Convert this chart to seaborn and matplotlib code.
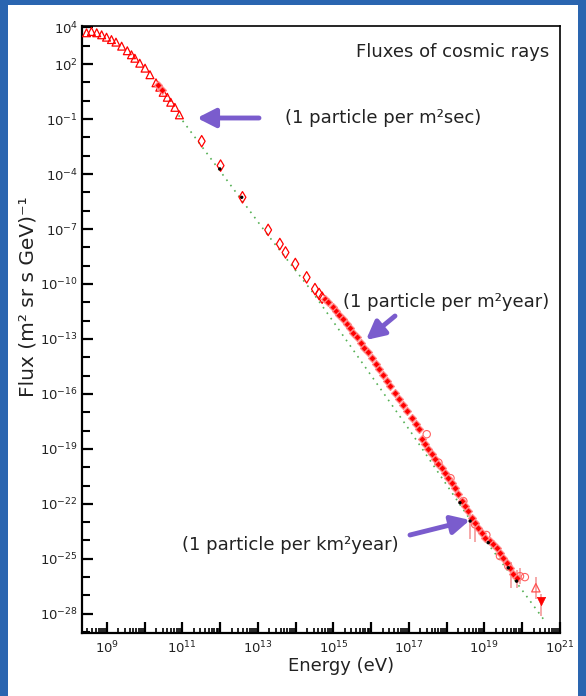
import numpy as np
import pandas as pd
import seaborn as sns
import matplotlib.pyplot as plt
from matplotlib.patches import Rectangle
from matplotlib.ticker import FixedLocator, LogLocator, FuncFormatter, NullFormatter

# Values (log10 of energy in eV, log10 of flux)
# low energy triangles
tri_logE = [8.46, 8.59, 8.73, 8.86, 8.99, 9.12, 9.24, 9.39, 9.54, 9.65, 9.74,
            9.87, 10.01, 10.14, 10.30, 10.40, 10.49, 10.60, 10.69, 10.80, 10.92]
tri_logF = [3.71, 3.78, 3.71, 3.60, 3.47, 3.34, 3.20, 2.98, 2.73, 2.51, 2.32,
            2.05, 1.78, 1.42, 0.98, 0.74, 0.46, 0.19, -0.08, -0.36, -0.77]
# open diamonds
dia_logE = [11.51, 12.01, 12.59, 13.27, 13.58, 13.73, 13.99, 14.29, 14.51, 14.62, 14.70]
dia_logF = [-2.21, -3.54, -5.27, -7.05, -7.82, -8.28, -8.91, -9.64, -10.28, -10.55, -10.75]
# filled points (dense band)
band_logE = [10.35, 10.45,
             14.78, 14.86, 14.99, 15.07, 15.15, 15.26, 15.35, 15.44, 15.52, 15.63,
             15.72, 15.81, 15.92, 16.01, 16.13, 16.21, 16.30, 16.41, 16.51, 16.63,
             16.74, 16.85, 16.95, 17.07, 17.19, 17.27,
             17.34, 17.42, 17.51, 17.60, 17.69, 17.78, 17.87, 17.95, 18.04, 18.13,
             18.22, 18.31, 18.40, 18.48, 18.57, 18.66, 18.75, 18.84, 18.93, 19.01,
             19.15, 19.23, 19.32, 19.41, 19.50, 19.59, 19.68, 19.76, 19.85]
band_logF = [0.85, 0.60,
             -10.83, -11.01, -11.28, -11.46, -11.68, -11.92, -12.16, -12.38, -12.65, -12.92,
             -13.20, -13.47, -13.74, -14.02, -14.38, -14.65, -14.96, -15.29, -15.56, -15.93,
             -16.29, -16.60, -16.93, -17.30, -17.66, -17.93,
             -18.48, -18.75, -19.02, -19.30, -19.57, -19.84, -20.03, -20.30, -20.57, -20.85,
             -21.12, -21.48, -21.85, -22.12, -22.39, -22.76, -23.03, -23.31, -23.58, -23.85,
             -24.03, -24.21, -24.40, -24.67, -24.95, -25.22, -25.49, -25.85, -26.04]
# open markers scattered around the band
open_logE = [17.47, 17.78, 18.10, 18.44, 18.75, 19.05, 19.41, 19.63, 19.94, 20.07]
open_logF = [-18.20, -19.75, -20.60, -21.85, -23.12, -23.70, -24.85, -25.40, -25.95, -26.00]
# small black points
blk_logE = [11.99, 12.57, 18.35, 18.62, 19.10, 19.63, 19.85]
blk_logF = [-3.72, -5.27, -21.94, -22.94, -24.12, -25.49, -26.22]
# highest energy points with error bars
top_logE = [20.36, 20.51]
top_logF = [-26.58, -27.31]
err_logE = [18.62, 18.75, 19.70, 19.85, 19.95, 20.36, 20.51]
err_lo = [-23.9, -24.1, -26.6, -26.6, -26.4, -27.2, -28.1]
err_hi = [-22.3, -22.9, -25.2, -25.6, -25.5, -26.0, -26.9]
# green dotted power law
fit_logE = [10.90, 13.21, 14.43, 17.03, 18.60, 20.60]
fit_logF = [-0.80, -7.19, -10.40, -18.02, -22.80, -28.40]

y_tick_exp = [4, 2, -1, -4, -7, -10, -13, -16, -19, -22, -25, -28]

sns.set_theme(style='white')
plt.rcParams['font.family'] = ['DejaVu Sans']

W, H = 586, 696
fig = plt.figure(figsize=(W / 100, H / 100), dpi=100, facecolor='#2a65b0')
fig.patches.append(Rectangle((8 / W, 0), 570 / W, 691 / H, transform=fig.transFigure,
                             facecolor='white', edgecolor='none', zorder=-1))
ax = fig.add_axes([82 / W, 1 - 633 / H, 478 / W, 607 / H])
ax.set_xscale('log')
ax.set_yscale('log')

p = lambda a: 10.0 ** np.array(a)

sns.lineplot(x=p(fit_logE), y=p(fit_logF), color='#55b055', lw=1.2,
             linestyle=(0, (1, 3)), ax=ax, zorder=1)
ax.vlines(p(err_logE), p(err_lo), p(err_hi), color='#f49a9a', lw=1.2, zorder=2)
sns.scatterplot(x=p(tri_logE), y=p(tri_logF), marker='^', s=32, color='red',
                facecolor='none', edgecolor='red', linewidth=0.9, ax=ax, zorder=3)
sns.scatterplot(x=p(dia_logE), y=p(dia_logF), marker='d', s=34, color='red',
                facecolor='none', edgecolor='red', linewidth=0.9, ax=ax, zorder=3)
sns.scatterplot(x=p(open_logE), y=p(open_logF), marker='o', s=28, color='red',
                facecolor='none', edgecolor='#ff6060', linewidth=0.8, ax=ax, zorder=3)
sns.scatterplot(x=p(band_logE), y=p(band_logF), marker='D', s=16, color='red',
                edgecolor='#ff8a8a', linewidth=0.9, ax=ax, zorder=4)
sns.scatterplot(x=p(blk_logE), y=p(blk_logF), marker='o', s=6, color='black',
                edgecolor='none', ax=ax, zorder=5)
sns.scatterplot(x=p(top_logE[:1]), y=p(top_logF[:1]), marker='^', s=36, color='red',
                facecolor='none', edgecolor='#ff5050', linewidth=0.9, ax=ax, zorder=4)
sns.scatterplot(x=p(top_logE[1:]), y=p(top_logF[1:]), marker='v', s=36, color='red',
                edgecolor='red', ax=ax, zorder=4)

ax.set_xlim(10 ** 8.34, 1e21)
ax.set_ylim(10 ** -29.05, 10 ** 4.08)

# ticks
ax.xaxis.set_major_locator(LogLocator(base=10, numticks=40))
ax.xaxis.set_minor_locator(LogLocator(base=10, subs=np.arange(2, 10), numticks=40))
ax.xaxis.set_minor_formatter(NullFormatter())
def xfmt(v, pos):
    e = int(round(np.log10(v)))
    return f'$10^{{{e}}}$' if e % 2 == 1 else ''
ax.xaxis.set_major_formatter(FuncFormatter(xfmt))

ax.yaxis.set_major_locator(FixedLocator(p(y_tick_exp)))
ax.yaxis.set_minor_locator(FixedLocator(p(np.arange(-29, 5))))
ax.yaxis.set_minor_formatter(NullFormatter())
ax.yaxis.set_major_formatter(FuncFormatter(lambda v, pos: f'$10^{{{int(round(np.log10(v)))}}}$'))

ax.tick_params(which='both', bottom=True, left=True, top=False, right=False)
ax.tick_params(which='major', direction='in', length=8, width=1.6, color='black',
               labelsize=9.5, labelcolor='#222222')
ax.tick_params(axis='x', which='minor', direction='in', length=3.5, width=1.2, color='black')
ax.tick_params(axis='y', which='minor', direction='in', length=6, width=1.5, color='black')
ax.tick_params(axis='y', which='major', pad=3)
ax.tick_params(axis='x', which='major', pad=5)
for s in ax.spines.values():
    s.set_color('black')
    s.set_linewidth(1.2)
ax.spines['left'].set_linewidth(1.6)
ax.spines['bottom'].set_linewidth(1.6)

ax.set_xlabel('Energy (eV)', fontsize=13, color='#222222')
ax.xaxis.set_label_coords((341 - 82) / 478, -0.04)
ax.set_ylabel('Flux (m² sr s GeV)⁻¹', fontsize=14.5, color='#222222')
ax.yaxis.set_label_coords(-0.094, (633 - 297) / 607)

# texts and arrows
fig.text(549 / W, 1 - 52 / H, 'Fluxes of cosmic rays', ha='right', va='center',
         fontsize=13, color='#222222')
fig.text(285 / W, 1 - 118 / H, '(1 particle per m²sec)', ha='left', va='center',
         fontsize=13, color='#222222')
fig.text(343 / W, 1 - 302 / H, '(1 particle per m²year)', ha='left', va='center',
         fontsize=13, color='#222222')
fig.text(182 / W, 1 - 545 / H, '(1 particle per km²year)', ha='left', va='center',
         fontsize=13, color='#222222')

arrows = [((259, 118), (197, 118)), ((395, 316), (366, 340)), ((410, 535), (470, 520))]
for tail, head in arrows:
    ax.annotate('', xy=(head[0] / W, 1 - head[1] / H), xycoords='figure fraction',
                xytext=(tail[0] / W, 1 - tail[1] / H), textcoords='figure fraction',
                arrowprops=dict(arrowstyle='-|>,head_length=0.55,head_width=0.28',
                                color='#7a5ccd', lw=3.5, shrinkA=0, shrinkB=0,
                                mutation_scale=20))

fig.savefig('out.png', dpi=100, facecolor=fig.get_facecolor())
